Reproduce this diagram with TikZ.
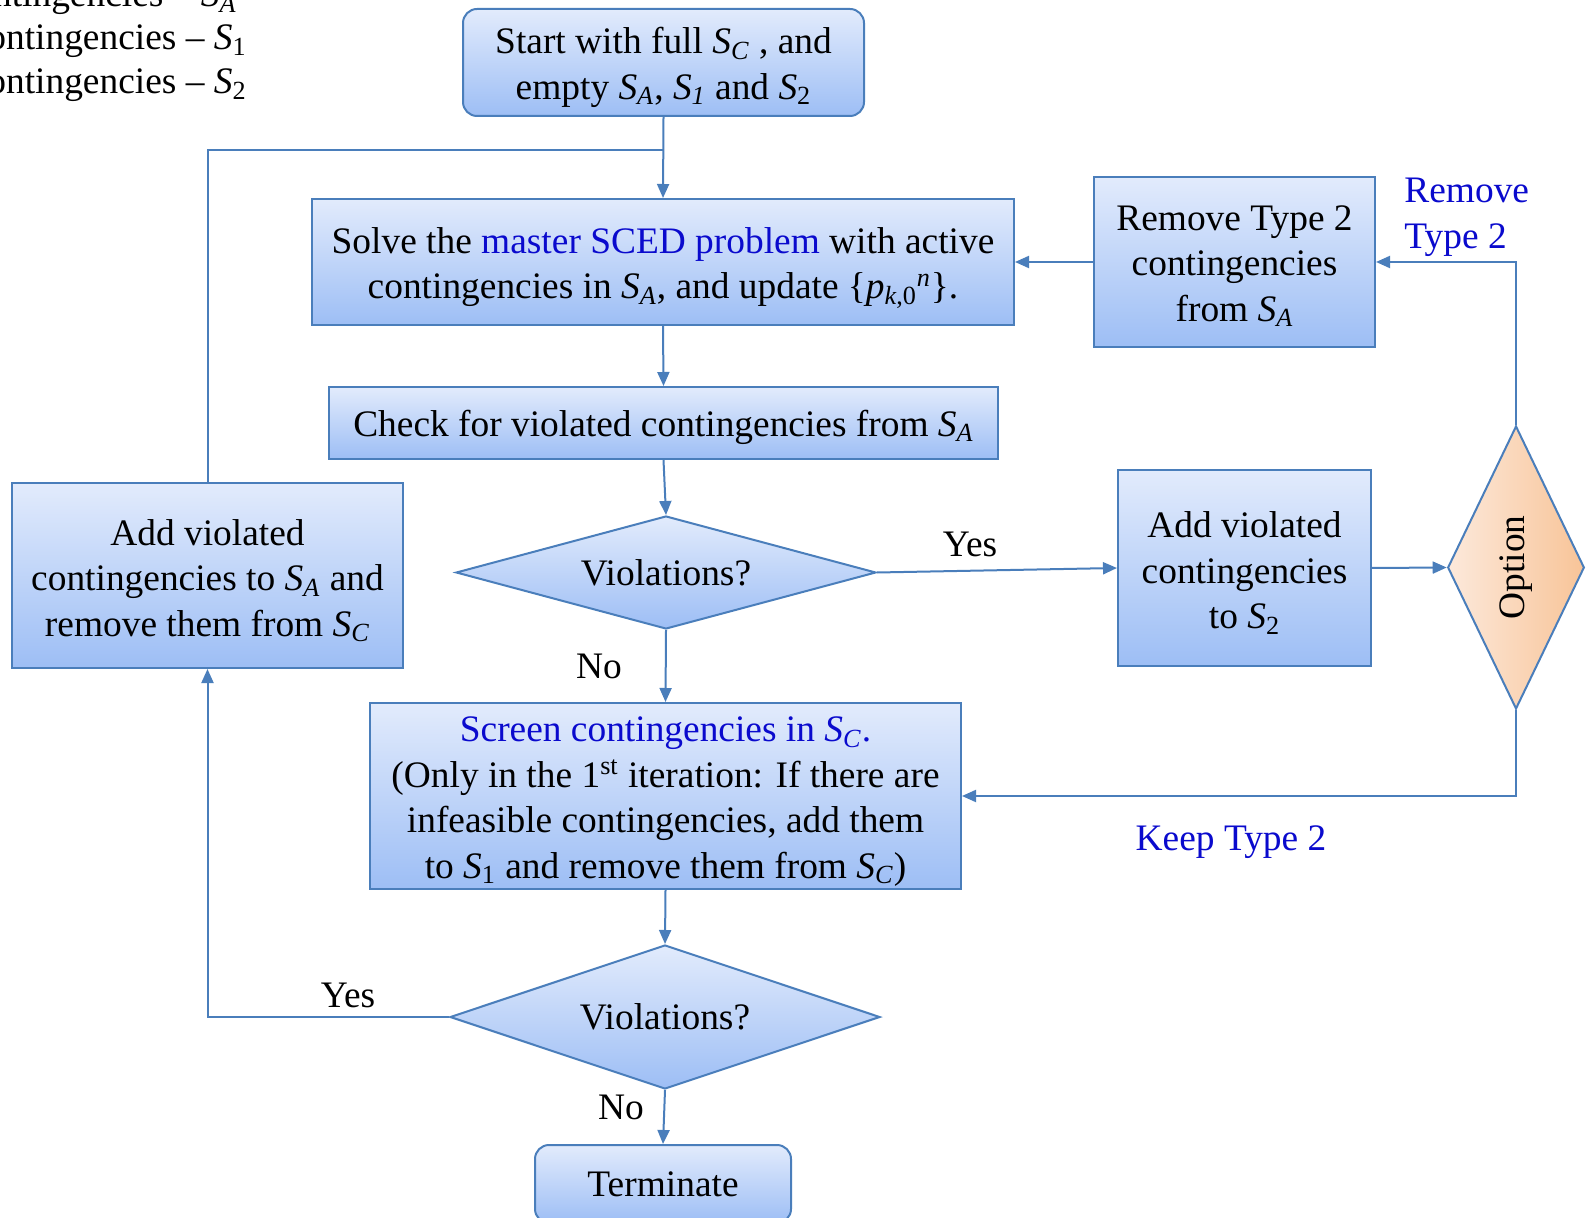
\documentclass[tikz,border=0pt]{standalone}
\usepackage{fontspec}
\setmainfont{Liberation Serif}
\usetikzlibrary{shapes.geometric,arrows.meta}

\definecolor{edgeblue}{RGB}{74,126,187}
\definecolor{fillTop}{RGB}{226,235,252}
\definecolor{fillBot}{RGB}{157,190,245}
\definecolor{optLeft}{RGB}{252,233,219}
\definecolor{optRight}{RGB}{248,196,152}
\definecolor{linkblue}{RGB}{10,10,205}

% set symbol S with a subscript
\newcommand\Sset[1]{\textit{S}\textsubscript{#1}}
% centred lines of a box, set a little below the box centre
\newcommand\boxlines[3][2.5pt]{\raisebox{-#1}[\height][\depth]{\parbox{#2}{\centering #3}}}

\begin{document}
\begin{tikzpicture}[x=0.5pt,y=-0.5pt,
  every node/.style={font=\fontsize{18.7pt}{22.8pt}\selectfont},
  flowbox/.style={draw=edgeblue, line width=1pt, top color=fillTop,
    bottom color=fillBot, align=center, inner sep=0pt},
  roundbox/.style={flowbox, rounded corners=7pt},
  decision/.style={flowbox, diamond, aspect=3.5},
  optionbox/.style={draw=edgeblue, line width=1pt, diamond, inner sep=0pt,
    left color=optLeft, right color=optRight, shading angle=90},
  flow/.style={draw=edgeblue, line width=1pt, -{Triangle[length=7pt,width=6pt]}},
  link/.style={draw=edgeblue, line width=1pt},
  branch/.style={inner sep=0pt},
  choice/.style={inner sep=0pt, text=linkblue}
]
\useasboundingbox (0,0) rectangle (1589,1218);
\clip (0,0) rectangle (1589,1218);

% set legend in the upper left corner
\node[anchor=base east, inner sep=0pt] (legA) at (237,7) {ntingencies -- \Sset{\textit{A}}};
\node[anchor=base east, inner sep=0pt] (leg1) at (247,50) {ontingencies -- \Sset{1}};
\node[anchor=base east, inner sep=0pt] (leg2) at (247,94) {ontingencies -- \Sset{2}};

% process steps
\node[roundbox, minimum width=200.5pt, minimum height=53.5pt] (start) at (663.5,62.5)
  {\boxlines{195pt}{Start with full \Sset{\textit{C}} , and\\ empty \Sset{\textit{A}}, \Sset{\textit{1}} and \Sset{2}}};
\node[flowbox, minimum width=351pt, minimum height=63pt] (solve) at (663,262)
  {\boxlines[3pt]{345pt}{Solve the \textcolor{linkblue}{master SCED problem} with active\\
   contingencies in \Sset{\textit{A}}, and update \{\textit{p}\textsubscript{\textit{k},0}\textsuperscript{\textit{n}}\}.}};
\node[flowbox, minimum width=334.5pt, minimum height=36pt] (check) at (663.5,423)
  {\raisebox{-2pt}[\height][\depth]{Check for violated contingencies from \Sset{\textit{A}}}};
\node[decision, minimum width=210pt, minimum height=56.5pt] (dec1) at (666,572.5) {Violations?};
\node[flowbox, minimum width=295.5pt, minimum height=93pt] (screen) at (665.5,796)
  {\boxlines[2.8pt]{290pt}{\textcolor{linkblue}{Screen contingencies in \Sset{\textit{C}}.}\\
   (Only in the 1\textsuperscript{st} iteration: If there are\\
   infeasible contingencies, add them\\
   to \Sset{1} and remove them from \Sset{\textit{C}})}};
\node[decision, aspect=3, minimum width=215pt, minimum height=72pt] (dec2) at (665,1017) {Violations?};
\node[roundbox, minimum width=128pt, minimum height=39pt] (term) at (663,1184) {Terminate};
\node[flowbox, minimum width=195.5pt, minimum height=92.5pt] (addA) at (207.5,575.5)
  {\boxlines{190pt}{Add violated\\ contingencies to \Sset{\textit{A}} and\\ remove them from \Sset{\textit{C}}}};
\node[flowbox, minimum width=140.5pt, minimum height=85pt] (remove) at (1234.5,262)
  {\boxlines[2pt]{138pt}{Remove Type 2\\ contingencies\\ from \Sset{\textit{A}}}};
\node[flowbox, minimum width=126.5pt, minimum height=98pt] (add2) at (1244.5,568)
  {\boxlines{124pt}{Add violated\\ contingencies\\ to \Sset{2}}};
\node[optionbox, minimum width=66pt, minimum height=141.5pt] (option) at (1516,567.5)
  {\rotatebox{90}{Option}};

% connectors
\coordinate (merge) at (663.5,150);
\draw[flow] (start.south) -- (solve.north);
\draw[link] (addA.north) |- (merge);
\draw[flow] (solve.south) -- (check.north);
\draw[flow] (check.south) -- (dec1.north);
\draw[flow] (dec1.east) -- (add2.west);
\draw[flow] (add2.east) -- (option.west);
\draw[flow] (option.north) |- (remove.east);
\draw[flow] (remove.west) -- (solve.east);
\draw[flow] (option.south) |- (screen.east);
\draw[flow] (dec1.south) -- (screen.north);
\draw[flow] (screen.south) -- (dec2.north);
\draw[flow] (dec2.west) -| (addA.south);
\draw[flow] (dec2.south) -- (term.north);

% branch labels
\node[branch] (yes1) at (970,544) {Yes};
\node[branch] (no1) at (599,666) {No};
\node[branch] (yes2) at (348,995) {Yes};
\node[branch] (no2) at (621,1107) {No};
\node[choice, anchor=north west, align=left] (remlab) at (1404,178) {Remove\\Type 2};
\node[choice] (keeplab) at (1231,842) {Keep Type 2};
\end{tikzpicture}
\end{document}
